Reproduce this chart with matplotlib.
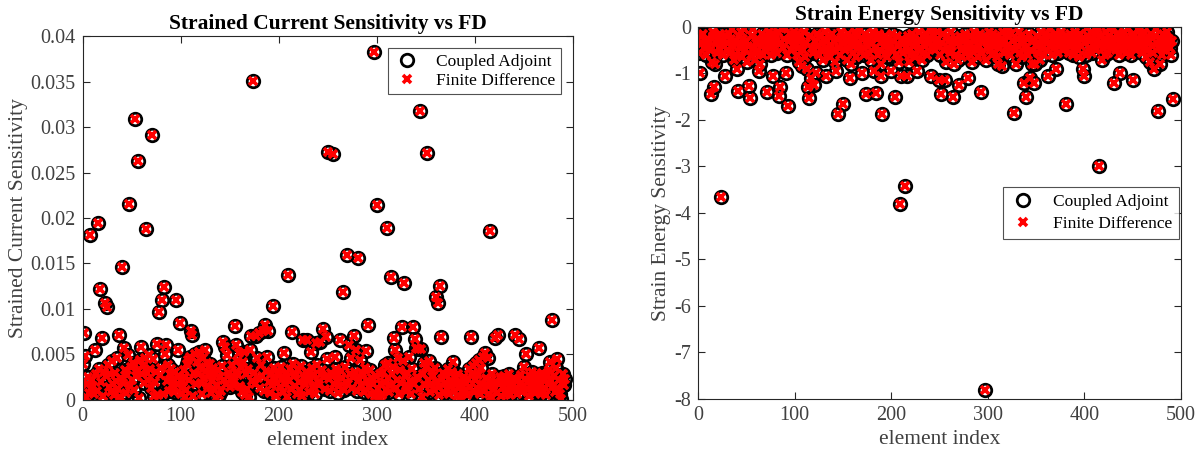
import matplotlib
matplotlib.use("Agg")
import matplotlib.pyplot as plt
from matplotlib.ticker import FuncFormatter, MultipleLocator

plt.rcParams['font.family'] = ['Liberation Serif', 'DejaVu Serif']

# Strained current sensitivity per element (units of 1e-3)
current_adjoint_milli = [
    3.9, 7.3, 4.8, 0.3, 1.8, 2.5, 0.8, 18.1, 1.2, 2.2,
    1.5, 0.6, 5.5, 2.9, 1.0, 19.5, 3.4, 12.2, 2.0, 6.8,
    0.4, 3.1, 10.6, 2.6, 10.2, 3.8, 1.4, 2.9, 0.9, 4.3,
    1.7, 0.5, 3.0, 2.1, 4.6, 1.2, 7.1, 0.3, 2.4, 14.6,
    1.9, 5.7, 3.3, 0.8, 2.7, 4.9, 21.5, 1.5, 3.6, 2.2,
    4.1, 3.9, 1.1, 30.9, 2.6, 3.2, 26.3, 0.2, 4.4, 5.8,
    2.8, 3.7, 1.9, 4.6, 18.8, 3.0, 2.2, 4.9, 3.4, 1.3,
    29.1, 4.5, 0.4, 2.0, 3.1, 6.1, 0.5, 9.7, 2.7, 3.5,
    11.0, 0.6, 12.4, 5.0, 6.0, 2.1, 3.8, 1.0, 2.9, 3.4,
    1.6, 2.3, 0.9, 3.1, 11.0, 1.8, 5.5, 2.6, 8.4, 0.7,
    2.0, 1.4, 3.3, 0.3, 2.5, 1.1, 3.9, 4.4, 2.2, 4.7,
    7.6, 7.1, 0.4, 3.0, 5.0, 1.7, 4.2, 2.8, 5.3, 3.6,
    1.9, 0.6, 4.6, 2.4, 5.5, 3.2, 4.0, 1.5, 2.7, 3.9,
    0.8, 2.1, 3.5, 1.2, 2.9, 0.2, 1.6, 3.3, 0.5, 2.5,
    1.0, 3.7, 6.4, 2.2, 5.8, 1.8, 4.9, 2.6, 3.0, 1.4,
    2.3, 3.8, 1.6, 2.0, 8.1, 3.1, 6.0, 4.3, 2.7, 5.2,
    1.5, 3.6, 0.9, 4.2, 5.3, 0.5, 2.8, 1.2, 3.4, 0.3,
    5.5, 7.0, 2.1, 35.1, 3.0, 1.7, 7.0, 4.6, 2.4, 7.4,
    1.3, 3.8, 2.6, 7.6, 1.0, 8.2, 3.2, 4.7, 7.6, 2.0,
    0.8, 2.9, 1.6, 10.3, 3.5, 2.2, 0.4, 1.9, 3.1, 2.7,
    1.4, 3.6, 2.3, 0.9, 5.1, 1.8, 3.0, 2.5, 0.3, 13.7,
    2.1, 3.4, 1.2, 7.5, 3.9, 2.6, 1.5, 2.9, 0.7, 3.3,
    2.0, 1.1, 3.7, 0.4, 6.6, 2.4, 1.7, 3.1, 6.6, 2.8,
    0.9, 2.2, 5.3, 3.5, 1.4, 2.7, 0.6, 6.2, 3.8, 2.0,
    1.6, 6.4, 2.9, 3.3, 7.8, 2.5, 1.2, 6.9, 4.5, 27.3,
    2.3, 1.0, 3.0, 2.6, 27.0, 1.8, 4.7, 3.4, 2.1, 0.8,
    2.7, 1.5, 6.6, 3.2, 2.4, 11.9, 1.1, 3.6, 2.0, 15.9,
    1.7, 6.0, 2.9, 4.6, 1.3, 2.5, 7.0, 3.1, 5.5, 1.0,
    15.6, 2.2, 4.4, 1.6, 3.0, 2.7, 0.9, 3.5, 5.4, 2.1,
    8.2, 1.4, 3.3, 0.6, 2.4, 1.8, 38.2, 0.4, 2.6, 21.4,
    1.2, 0.3, 2.9, 1.7, 0.5, 3.1, 2.0, 3.8, 1.1, 18.9,
    2.4, 4.1, 0.9, 1.6, 13.5, 2.8, 3.6, 6.8, 5.5, 1.3,
    2.2, 4.6, 0.7, 3.3, 1.9, 8.0, 4.3, 12.9, 2.6, 1.0,
    3.0, 1.5, 4.7, 2.1, 0.6, 3.4, 8.0, 1.8, 6.7, 5.7,
    2.5, 5.6, 1.2, 31.8, 5.6, 0.3, 2.9, 4.0, 1.6, 3.6,
    27.1, 2.2, 4.3, 0.9, 1.7, 3.2, 2.6, 1.1, 3.5, 11.3,
    2.0, 10.7, 0.5, 1.4, 12.5, 6.9, 2.3, 3.0, 0.8, 1.9,
    2.7, 1.2, 3.4, 0.6, 2.1, 1.5, 3.1, 4.2, 1.0, 2.4,
    1.7, 0.4, 2.8, 1.3, 0.2, 2.0, 1.6, 0.8, 2.5, 1.1,
    1.9, 0.5, 2.3, 3.4, 1.4, 6.9, 2.9, 3.7, 0.9, 2.2,
    4.0, 1.3, 2.7, 4.4, 0.7, 3.5, 1.8, 4.7, 1.0, 5.2,
    2.4, 1.6, 4.6, 0.6, 18.6, 2.1, 0.3, 2.8, 1.5, 1.2,
    6.8, 2.0, 0.8, 7.1, 1.7, 2.5, 0.4, 2.2, 1.4, 2.6,
    1.9, 0.7, 2.3, 1.1, 2.9, 0.5, 1.6, 2.1, 1.0, 2.4,
    7.1, 1.3, 0.6, 2.2, 6.7, 1.8, 2.7, 0.9, 1.5, 3.6,
    2.3, 5.0, 1.2, 2.0, 0.4, 2.6, 1.7, 3.1, 1.1, 2.5,
    0.8, 1.9, 2.8, 1.4, 5.7, 2.2, 0.6, 1.6, 3.0, 1.0,
    2.4, 1.3, 0.5, 2.9, 1.8, 3.3, 4.2, 2.1, 8.8, 1.5,
    2.6, 0.9, 3.5, 4.5, 1.2, 2.2, 0.7, 0.1, 1.9, 2.8,
    1.6, 2.3,
]
# finite-difference check agrees with the adjoint to plotting precision
current_fd_milli = list(current_adjoint_milli)

# Strain energy sensitivity per element
energy_adjoint = [
    -0.55, -1.0, -0.2, -0.35, -0.15, -0.45, -0.3, -0.6, -0.25, -0.4,
    -0.3, -0.5, -1.45, -0.75, -0.2, -0.1, -1.3, -0.8, -0.35, -0.55,
    -0.25, -0.45, -0.15, -3.65, -0.3, -0.6, -0.4, -1.05, -0.2, -0.5,
    -0.35, -0.15, -0.55, -0.25, -0.05, -0.4, -0.7, -0.3, -0.6, -0.9,
    -1.38, -0.2, -0.45, -0.1, -0.35, -0.65, -0.25, -0.05, -0.5, -0.3,
    -0.75, -0.4, -1.28, -1.52, -0.6, -0.2, -0.05, -0.45, -0.7, -0.35,
    -0.55, -0.25, -0.95, -0.8, -0.4, -0.15, -0.6, -0.3, -0.5, -0.2,
    -1.4, -0.35, -0.1, -0.45, -0.25, -0.6, -0.15, -1.05, -0.4, -0.3,
    -0.2, -0.55, -0.1, -1.48, -1.3, -0.35, -0.05, -0.45, -0.25, -0.02,
    -1.0, -0.6, -1.7, -0.3, -0.15, -0.5, -0.2, -0.4, -0.1, -0.35,
    -0.25, -0.6, -0.15, -0.45, -0.75, -0.3, -0.2, -0.85, -0.5, -0.1,
    -0.65, -0.35, -0.9, -1.3, -1.52, -0.2, -1.1, -0.45, -0.55, -1.25,
    -0.3, -1.0, -0.15, -0.4, -0.6, -0.2, -0.5, -0.35, -0.7, -0.25,
    -0.45, -0.1, -1.05, -0.3, -0.55, -0.2, -0.65, -0.4, -0.15, -0.5,
    -0.3, -0.75, -0.95, -0.25, -1.87, -0.45, -0.6, -0.1, -0.35, -1.65,
    -0.2, -0.5, -0.3, -0.7, -0.15, -0.45, -1.1, -0.8, -0.25, -0.4,
    -0.55, -0.3, -0.1, -0.65, -0.2, -0.45, -0.35, -0.05, -0.5, -1.0,
    -0.25, -0.6, -0.15, -1.45, -0.4, -0.3, -0.55, -0.2, -0.7, -0.35,
    -0.1, -0.95, -0.45, -1.42, -0.25, -0.6, -0.15, -0.5, -1.05, -0.8,
    -1.88, -0.3, -0.4, -0.2, -0.55, -0.65, -0.25, -0.45, -0.35, -0.95,
    -0.15, -0.5, -0.3, -1.5, -0.6, -0.2, -0.4, -0.75, -3.8, -1.05,
    -0.25, -0.55, -0.35, -3.42, -0.45, -1.05, -0.2, -0.75, -0.3, -0.5,
    -0.6, -0.15, -0.4, -0.25, -0.65, -0.35, -0.95, -0.5, -0.1, -0.45,
    -0.3, -0.7, -0.2, -0.55, -0.4, -0.15, -0.6, -0.25, -0.35, -0.05,
    -1.05, -0.45, -0.2, -0.02, -0.5, -0.3, -0.1, -0.4, -0.25, -1.15,
    -0.6, -1.45, -0.35, -0.15, -0.5, -1.15, -0.75, -0.2, -0.45, -0.3,
    -0.55, -0.1, -0.4, -1.5, -0.8, -0.25, -0.6, -0.35, -0.7, -1.25,
    -0.2, -0.5, -0.65, -0.3, -0.45, -0.15, -0.55, -0.25, -0.4, -1.1,
    -0.35, -0.6, -0.2, -0.75, -0.45, -0.1, -0.3, -0.5, -0.25, -0.65,
    -0.4, -0.15, -1.4, -0.55, -0.3, -0.2, -7.8, -0.7, -0.45, -0.35,
    -0.1, -0.5, -0.25, -0.6, -0.15, -0.4, -0.3, -0.55, -0.2, -0.65,
    -0.8, -0.45, -0.35, -0.25, -0.85, -0.1, -0.55, -0.3, -0.05, -0.4,
    -0.2, -0.02, -0.6, -0.15, -0.45, -0.3, -1.85, -0.5, -0.8, -0.25,
    -0.4, -0.1, -0.55, -0.2, -0.35, -0.65, -0.3, -1.2, -0.45, -1.5,
    -0.25, -0.6, -0.15, -1.1, -0.5, -0.8, -0.3, -1.2, -0.8, -0.4,
    -0.2, -0.55, -0.35, -0.7, -0.1, -0.45, -0.25, -0.6, -0.3, -0.15,
    -0.5, -1.05, -0.2, -0.02, -0.4, -0.35, -0.6, -0.25, -0.45, -0.15,
    -0.9, -0.3, -0.55, -0.2, -0.4, -0.1, -0.35, -0.5, -0.25, -0.45,
    -1.65, -0.2, -0.3, -0.55, -0.15, -0.4, -0.25, -0.6, -0.35, -0.1,
    -0.45, -0.2, -0.5, -0.3, -0.65, -0.15, -0.4, -0.25, -0.9, -1.05,
    -0.35, -0.6, -0.02, -0.2, -0.45, -0.3, -0.1, -0.55, -0.25, -0.4,
    -0.15, -0.5, -0.3, -0.05, -3.0, -0.35, -0.2, -0.7, -0.45, -0.25,
    -0.6, -0.1, -0.4, -0.3, -0.55, -0.2, -0.05, -0.45, -0.35, -0.02,
    -1.2, -0.25, -0.5, -0.15, -0.4, -0.6, -1.0, -0.3, -0.2, -0.45,
    -0.1, -0.35, -0.55, -0.25, -0.05, -0.4, -0.3, -0.6, -0.2, -1.15,
    -0.45, -0.15, -0.35, -0.5, -0.25, -0.05, -0.4, -0.3, -0.2, -0.55,
    -0.35, -0.1, -0.45, -0.65, -0.25, -0.5, -0.3, -0.75, -0.15, -0.4,
    -0.55, -0.9, -0.2, -0.05, -0.35, -1.8, -0.45, -0.8, -0.25, -0.6,
    -0.3, -0.15, -0.5, -0.4, -0.2, -0.1, -0.35, -0.25, -0.45, -0.6,
    -0.3, -1.55,
]
energy_fd = list(energy_adjoint)

element_index = list(range(1, len(current_adjoint_milli) + 1))
current_adjoint = [v * 1e-3 for v in current_adjoint_milli]
current_fd = [v * 1e-3 for v in current_fd_milli]

AX_GRAY = '#262626'
TXT_GRAY = '#404040'
TICK_FS = 14.5
LABEL_FS = 15.5
TITLE_FS = 15.5
LEG_FS = 12.5


def style_axes(ax):
    for s in ax.spines.values():
        s.set_color(AX_GRAY)
        s.set_linewidth(0.8)
    ax.tick_params(direction='in', top=True, right=True, colors=AX_GRAY,
                   labelsize=TICK_FS, length=5, width=0.8, labelcolor=TXT_GRAY)
    ax.tick_params(axis='x', pad=5)
    ax.tick_params(axis='y', pad=5)
    ax.set_xlim(0, 500)
    ax.xaxis.set_major_locator(MultipleLocator(100))
    ax.set_xlabel('element index', fontsize=LABEL_FS, color=TXT_GRAY, labelpad=4)


def draw(ax, x, adj, fd):
    ax.plot(x, adj, linestyle='none', marker='o', markersize=9,
            markerfacecolor='none', markeredgecolor='black',
            markeredgewidth=2.0, label='Coupled Adjoint')
    ax.plot(x, fd, linestyle='none', marker='x', markersize=6,
            markeredgecolor='red', markeredgewidth=2.6,
            label='Finite Difference')


fig = plt.figure(figsize=(12.01, 4.57), dpi=100)
ax1 = fig.add_axes([0.0687, 0.125, 0.4083, 0.796])
ax2 = fig.add_axes([0.5812, 0.127, 0.4020, 0.814])

# left: strained current
draw(ax1, element_index, current_adjoint, current_fd)
style_axes(ax1)
ax1.set_ylim(0, 0.04)
ax1.yaxis.set_major_locator(MultipleLocator(0.005))
ax1.yaxis.set_major_formatter(FuncFormatter(lambda v, p: '%g' % round(v, 4)))
ax1.set_ylabel('Strained Current Sensitivity', fontsize=LABEL_FS, color=TXT_GRAY, labelpad=2)
ax1.set_title('Strained Current Sensitivity vs FD', fontsize=TITLE_FS,
              fontweight='bold', pad=5)
leg1 = ax1.legend(loc='upper right', fontsize=LEG_FS, frameon=True, fancybox=False,
                  edgecolor=AX_GRAY, borderaxespad=0.7, handletextpad=0.9,
                  borderpad=0.3, labelspacing=0.2, handlelength=1.6)
leg1.get_frame().set_linewidth(0.8)

# right: strain energy
draw(ax2, element_index, energy_adjoint, energy_fd)
style_axes(ax2)
ax2.set_ylim(-8, 0)
ax2.yaxis.set_major_locator(MultipleLocator(1))
ax2.yaxis.set_major_formatter(FuncFormatter(lambda v, p: '%g' % v))
ax2.set_ylabel('Strain Energy Sensitivity', fontsize=LABEL_FS, color=TXT_GRAY, labelpad=2)
ax2.set_title('Strain Energy Sensitivity vs FD', fontsize=TITLE_FS,
              fontweight='bold', pad=5)
leg2 = ax2.legend(loc='center right', bbox_to_anchor=(1.0, 0.5), fontsize=LEG_FS,
                  frameon=True, fancybox=False, edgecolor=AX_GRAY,
                  borderaxespad=0.1, handletextpad=0.9, borderpad=0.4,
                  labelspacing=0.3, handlelength=1.6)
leg2.get_frame().set_linewidth(0.8)

fig.savefig('out.png', dpi=100)
